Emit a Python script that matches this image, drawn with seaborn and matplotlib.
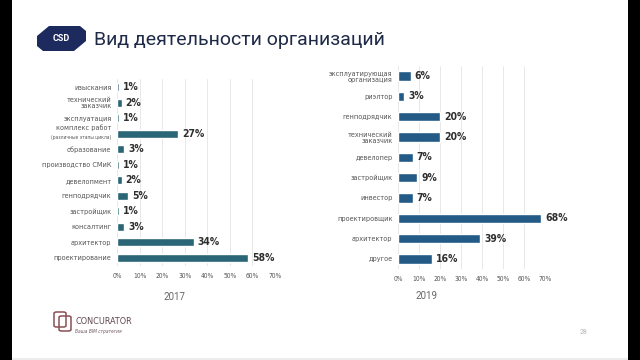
import matplotlib
matplotlib.use("Agg")
import matplotlib.pyplot as plt
from matplotlib.patches import Polygon, Rectangle, FancyBboxPatch
import seaborn as sns

# data
cats_2017 = ["изыскания", "технический\nзаказчик", "эксплуатация", "комплекс работ",
             "образование", "производство СМиК", "девелопмент", "генподрядчик",
             "застройщик", "консалтинг", "архитектор", "проектирование"]
vals_2017 = [1, 2, 1, 27, 3, 1, 2, 5, 1, 3, 34, 58]

cats_2019 = ["эксплуатирующая\nорганизация", "риэлтор", "генподрядчик",
             "технический\nзаказчик", "девелопер", "застройщик", "инвестор",
             "проектировщик", "архитектор", "другое"]
vals_2019 = [6, 3, 20, 20, 7, 9, 7, 68, 39, 16]

ticks = [0, 10, 20, 30, 40, 50, 60, 70]
tick_labels = [f"{t}%" for t in ticks]

W, H = 640, 360
COND = dict(family="DejaVu Sans", stretch="condensed")

sns.set_style("white")
plt.rcParams["font.family"] = ["Roboto", "DejaVu Sans"]

fig = plt.figure(figsize=(6.4, 3.6), dpi=100)


def fx(x):
    return x / W


def fy(y):
    return 1 - y / H


def draw_panel(rect, cats, vals, color, bar_w):
    ax = fig.add_axes(rect)
    sns.barplot(x=vals, y=cats, ax=ax, color=color, saturation=1,
                width=bar_w, orient="h")
    ax.set_xlim(0, 70)
    ax.set_xticks(ticks)
    ax.set_xticklabels(tick_labels, fontsize=4.8, color="#555555", **COND)
    ax.set_yticklabels(ax.get_yticklabels(), fontsize=5.2, color="#555555",
                       linespacing=1.0, **COND)
    ax.tick_params(axis="both", length=0)
    ax.tick_params(axis="x", pad=5)
    ax.tick_params(axis="y", pad=4)
    ax.grid(axis="x", color="#e4e4e4", lw=0.6)
    ax.set_axisbelow(True)
    ax.set_xlabel("")
    ax.set_ylabel("")
    sns.despine(ax=ax, left=True, bottom=True)
    for i, v in enumerate(vals):
        ax.annotate(f"{v}%", xy=(v, i), xytext=(3, 0), textcoords="offset points",
                    va="center", ha="left", fontsize=7.5, fontweight="bold",
                    color="#2e2e2e", **COND)
    return ax


ax1 = draw_panel([fx(117), fy(265.75), fx(275 - 117), (265.75 - 79.25) / H],
                 cats_2017, vals_2017, "#2a6675", 0.52)
# "комплекс работ" is drawn by hand: two lines of different size
labs = [t.get_text() for t in ax1.get_yticklabels()]
k = labs.index("комплекс работ")
labs[k] = ""
ax1.set_yticklabels(labs)
ax1.annotate("комплекс работ", xy=(0, k), xycoords=("axes fraction", "data"),
             xytext=(-4, 4.2), textcoords="offset points", ha="right", va="center",
             fontsize=5.2, color="#555555", **COND)
ax1.annotate("(различные этапы цикла)", xy=(0, k), xycoords=("axes fraction", "data"),
             xytext=(-4, -2.6), textcoords="offset points", ha="right", va="center",
             fontsize=3.6, color="#555555", **COND)

ax2 = draw_panel([fx(398), fy(269.15), fx(545 - 398), (269.15 - 65.85) / H],
                 cats_2019, vals_2019, "#235a86", 0.45)

# year captions
fig.text(fx(175), fy(297), "2017", ha="center", va="center", fontsize=7, color="#666666")
fig.text(fx(427), fy(296), "2019", ha="center", va="center", fontsize=7, color="#666666")

# title + CSD badge
fig.text(fx(94), fy(40), "Вид деятельности организаций", ha="left", va="center",
         fontsize=14, color="#1f2a48")
badge = [(37, 36), (49, 26), (80, 26), (86, 31), (86, 41), (74, 51), (43, 51), (37, 46)]
fig.patches.append(Polygon([(fx(x), fy(y)) for x, y in badge], closed=True,
                           transform=fig.transFigure, facecolor="#1c2a5e", edgecolor="none"))
fig.text(fx(61.5), fy(38.5), "CSD", ha="center", va="center", fontsize=6.5,
         fontweight="bold", color="white")

# bottom-left CONCURATOR mark
for (x0, y0) in [(54, 312), (59, 316)]:
    fig.patches.append(FancyBboxPatch((fx(x0), fy(y0 + 15)), fx(12), 15 / H,
                                      boxstyle="round,pad=0,rounding_size=0.004",
                                      transform=fig.transFigure, facecolor="none",
                                      edgecolor="#8a4f55", lw=1.1))
fig.text(fx(75), fy(322), "CONCURATOR", ha="left", va="center", fontsize=6.5,
         color="#5e4550", **COND)
fig.text(fx(75), fy(331), "Ваша BIM стратегия", ha="left", va="center", fontsize=3.5,
         color="#6e5560", style="italic", **COND)

fig.text(fx(584), fy(332), "28", ha="center", va="center", fontsize=5, color="#b5b5b5")

# side bars and bottom edge of the slide
fig.patches.append(Rectangle((0, 0), fx(12), 1, transform=fig.transFigure,
                             facecolor="black", edgecolor="none"))
fig.patches.append(Rectangle((fx(628), 0), fx(12), 1, transform=fig.transFigure,
                             facecolor="black", edgecolor="none"))
fig.patches.append(Rectangle((fx(12), 0), fx(616), 2.5 / H, transform=fig.transFigure,
                             facecolor="#ececec", edgecolor="none"))

fig.savefig("out.png", dpi=100)
